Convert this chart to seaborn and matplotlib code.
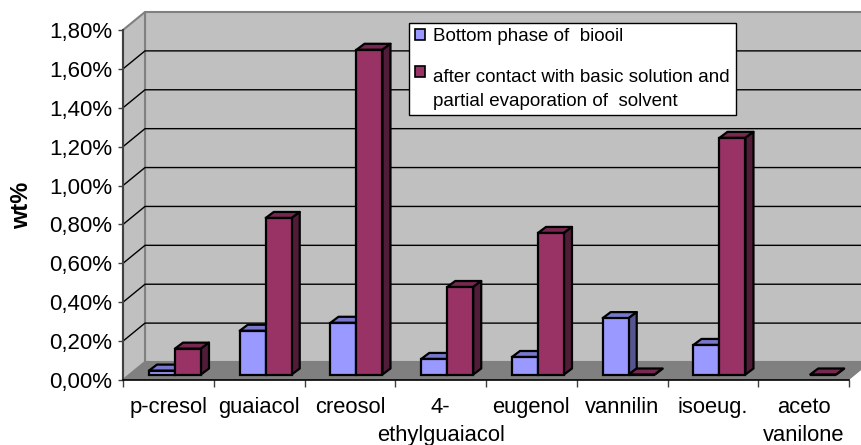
# -*- coding: utf-8 -*-
"""Bar chart with Excel style 3D look: wt% of compounds in the two biooil phases."""

import matplotlib
matplotlib.use('Agg')
import matplotlib.pyplot as plt
from matplotlib.legend_handler import HandlerPatch
from matplotlib.patches import Patch, Polygon, Rectangle
import numpy as np
import pandas as pd
import seaborn as sns

# --- DATA ---
compounds = ['p-cresol', 'guaiacol', 'creosol', '4-\nethylguaiacol', 'eugenol',
             'vannilin', 'isoeug.', 'aceto\nvanilone']
bottom_phase = [0.02, 0.225, 0.266, 0.08, 0.09, 0.29, 0.152, np.nan]
after_contact = [0.133, 0.805, 1.67, 0.45, 0.728, 0.0, 1.217, 0.0]
series_names = ['Bottom phase of  biooil',
                'after contact with basic solution and\npartial evaporation of  solvent']
y_ticks = [0.0, 0.2, 0.4, 0.6, 0.8, 1.0, 1.2, 1.4, 1.6, 1.8]
y_tick_labels = ['0,00%', '0,20%', '0,40%', '0,60%', '0,80%', '1,00%', '1,20%', '1,40%', '1,60%', '1,80%']

# --- CONFIG ---
W, H = 861, 445
LEFT, RIGHT, TOP, BOTTOM = 123, 849, 30, 380   # front plane of the box, pixels
PX_X = 8 / (RIGHT - LEFT)       # data units per pixel
PX_Y = 1.8 / (BOTTOM - TOP)
BOX_DX, BOX_DY = 22 * PX_X, 18 * PX_Y
BAR_DX, BAR_DY = 8 * PX_X, 6 * PX_Y

FRONT = ['#9999FF', '#993366']
TOPS = ['#7777CC', '#772850']
SIDES = ['#555590', '#501C38']

plt.rcParams['font.family'] = ['Liberation Sans', 'DejaVu Sans']


def add_face(ax, pts, color, z, edge='none', lw=0):
    ax.add_patch(Polygon(pts, closed=True, facecolor=color, edgecolor=edge,
                         linewidth=lw, zorder=z, clip_on=False, joinstyle='round'))


def legend_square(legend, orig_handle, xdescent, ydescent, width, height, fontsize):
    # the key of a wrapped label sits next to its first line, not between the lines
    lift = fontsize * 0.95 if '\n' in orig_handle.get_label() else 0
    return Rectangle((-xdescent, -ydescent + lift), width, height)


def main():
    fig = plt.figure(figsize=(W / 100, H / 100), dpi=100, facecolor='white')

    # front plane: ticks, labels, walls and floor
    ax = fig.add_axes([LEFT / W, (H - BOTTOM) / H, (RIGHT - LEFT) / W, (BOTTOM - TOP) / H])
    ax.set_xlim(-0.5, 7.5)
    ax.set_ylim(0, 1.8)
    ax.patch.set_visible(False)
    for name in ['top', 'right']:
        ax.spines[name].set_visible(False)
    ax.spines['left'].set_color('#404040')
    ax.spines['left'].set_linewidth(1.5)
    ax.spines['bottom'].set_linewidth(1.2)

    x0, x1 = -0.5, 7.5
    add_face(ax, [(x0 + BOX_DX, BOX_DY), (x1 + BOX_DX, BOX_DY), (x1 + BOX_DX, 1.8 + BOX_DY), (x0 + BOX_DX, 1.8 + BOX_DY)],
             '#C0C0C0', 0, '#808080', 1.5)
    add_face(ax, [(x0, 0), (x0 + BOX_DX, BOX_DY), (x0 + BOX_DX, 1.8 + BOX_DY), (x0, 1.8)], '#C0C0C0', 0, '#808080', 1.5)
    add_face(ax, [(x0, 0), (x1, 0), (x1 + BOX_DX, BOX_DY), (x0 + BOX_DX, BOX_DY)], '#808080', 0.5)

    # gridlines on side wall and back wall
    for t in y_ticks[1:-1]:
        ax.plot([x0, x0 + BOX_DX, x1 + BOX_DX], [t, t + BOX_DY, t + BOX_DY],
                color='black', lw=1, clip_on=False, zorder=1)

    ax.set_yticks(y_ticks)
    ax.set_yticklabels(y_tick_labels, fontsize=16)
    ax.tick_params(axis='y', length=3.8, width=1, color='#404040', pad=3.7)
    ax.set_xticks([i - 0.5 for i in range(9)])
    ax.set_xticklabels([])
    ax.set_xticks(range(8), minor=True)
    ax.set_xticklabels(compounds, minor=True, fontsize=15.8, linespacing=1.42)
    ax.tick_params(axis='x', which='major', length=4.8, width=1, color='#404040')
    ax.tick_params(axis='x', which='minor', length=0, pad=12.5)
    ax.set_ylabel('wt%', fontsize=17, fontweight='bold', labelpad=12)

    # bars stand a bit behind the front plane, so they get their own shifted axes
    bar_ax = fig.add_axes([(LEFT + 6.6) / W, (H - BOTTOM + 5.5) / H, (RIGHT - LEFT) / W, (BOTTOM - TOP) / H])
    df = pd.DataFrame({
        'compound': compounds * 2,
        'wt': bottom_phase + after_contact,
        'series': [series_names[0]] * 8 + [series_names[1]] * 8,
    })
    sns.barplot(data=df, x='compound', y='wt', hue='series', palette=FRONT, width=0.573,
                saturation=1, edgecolor='black', linewidth=1.6, legend=False, ax=bar_ax, zorder=3)
    bar_ax.set_xlim(-0.5, 7.5)
    bar_ax.set_ylim(0, 1.8)
    bar_ax.axis('off')

    # top and side faces come from the bars seaborn has drawn
    for k, bars in enumerate(bar_ax.containers):
        for bar in bars:
            xa, w, h = bar.get_x(), bar.get_width(), bar.get_height()
            if np.isnan(h):
                continue
            xb = xa + w
            add_face(bar_ax, [(xa, h), (xb, h), (xb + BAR_DX, h + BAR_DY), (xa + BAR_DX, h + BAR_DY)],
                     TOPS[k], 2 + k * 0.1, 'black', 1.6)
            add_face(bar_ax, [(xb, 0), (xb + BAR_DX, BAR_DY), (xb + BAR_DX, h + BAR_DY), (xb, h)],
                     SIDES[k], 2 + k * 0.1, 'black', 1.6)
            bar.set_zorder(3 + k * 0.1)
            bar.set_clip_on(False)

    handles = [Patch(facecolor=FRONT[i], edgecolor='black', linewidth=1.2, label=series_names[i]) for i in range(2)]
    leg = bar_ax.legend(handles=handles, loc='upper left', bbox_to_anchor=(409 / W, (H - 22.5) / H),
                        bbox_transform=fig.transFigure, borderaxespad=0, fontsize=13.5,
                        fancybox=False, framealpha=1, edgecolor='black', handlelength=0.55,
                        handleheight=0.55, handletextpad=0.45, borderpad=0.3, labelspacing=1.25,
                        handler_map={Patch: HandlerPatch(patch_func=legend_square)})
    for text in leg.get_texts():
        text.set_linespacing(1.55)
    leg.get_frame().set_linewidth(1)
    leg.set_zorder(10)

    fig.savefig('out.png', dpi=100, facecolor='white')
    plt.close(fig)


if __name__ == '__main__':
    main()
